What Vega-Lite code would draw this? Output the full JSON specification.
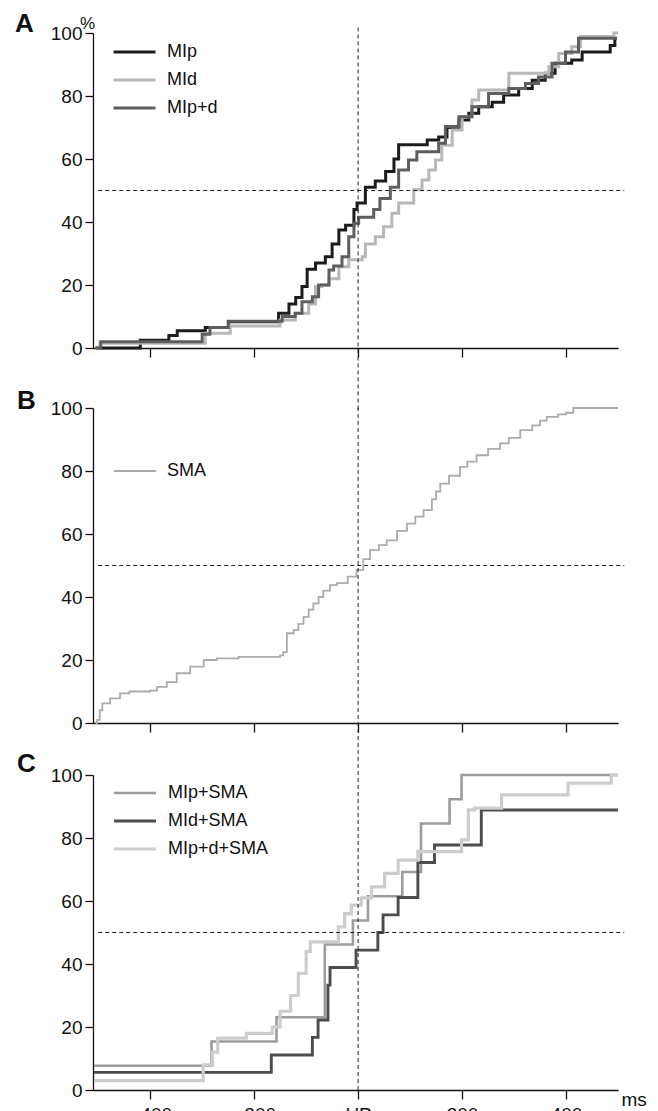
{
  "$schema": "https://vega.github.io/schema/vega-lite/v6.json",
  "background": "white",
  "padding": {"left": 15, "top": 11, "right": 5, "bottom": 5},
  "bounds": "flush",
  "spacing": 60,
  "resolve": {"scale": {"color": "independent", "strokeWidth": "independent"}, "legend": {"color": "independent", "strokeWidth": "independent"}},
  "config": {
    "font": "Liberation Sans",
    "view": {"stroke": null},
    "axis": {"grid": false, "domainColor": "#111", "tickColor": "#111", "labelColor": "#111", "labelFont": "Liberation Sans", "labelFontSize": 19, "domainWidth": 1.3, "tickWidth": 1.3, "titleFont": "Liberation Sans", "titleFontWeight": "normal", "titleColor": "#111"},
    "legend": {"orient": "none", "title": null, "symbolType": "stroke", "symbolSize": 1764, "symbolStrokeWidth": 3, "labelFont": "Liberation Sans", "labelFontSize": 18, "labelColor": "#111", "labelOffset": 10, "rowPadding": 8, "clipHeight": 20},
    "title": {"font": "Liberation Sans", "fontSize": 26, "fontWeight": "bold", "anchor": "start", "frame": "group", "color": "#111", "baseline": "alphabetic"}
  },
  "datasets": {
    "A": [
      {"series": "MIp", "ms": -505, "pct": 0}, {"series": "MIp", "ms": -419, "pct": 2.5}, {"series": "MIp", "ms": -364, "pct": 4}, {"series": "MIp", "ms": -348, "pct": 5.5}, {"series": "MIp", "ms": -294, "pct": 6.5}, {"series": "MIp", "ms": -249, "pct": 8.3}, {"series": "MIp", "ms": -153, "pct": 11}, {"series": "MIp", "ms": -133, "pct": 14}, {"series": "MIp", "ms": -120, "pct": 16}, {"series": "MIp", "ms": -108, "pct": 19.5}, {"series": "MIp", "ms": -98, "pct": 25}, {"series": "MIp", "ms": -82, "pct": 27}, {"series": "MIp", "ms": -63, "pct": 29}, {"series": "MIp", "ms": -50, "pct": 33}, {"series": "MIp", "ms": -37, "pct": 37.5}, {"series": "MIp", "ms": -24, "pct": 39}, {"series": "MIp", "ms": -8, "pct": 44}, {"series": "MIp", "ms": -2, "pct": 46}, {"series": "MIp", "ms": 14, "pct": 51}, {"series": "MIp", "ms": 33, "pct": 53}, {"series": "MIp", "ms": 53, "pct": 56}, {"series": "MIp", "ms": 69, "pct": 60}, {"series": "MIp", "ms": 78, "pct": 64.5}, {"series": "MIp", "ms": 133, "pct": 66}, {"series": "MIp", "ms": 155, "pct": 67}, {"series": "MIp", "ms": 171, "pct": 70}, {"series": "MIp", "ms": 194, "pct": 72.4}, {"series": "MIp", "ms": 213, "pct": 74.5}, {"series": "MIp", "ms": 232, "pct": 76.6}, {"series": "MIp", "ms": 258, "pct": 78}, {"series": "MIp", "ms": 280, "pct": 80.3}, {"series": "MIp", "ms": 309, "pct": 82.4}, {"series": "MIp", "ms": 335, "pct": 85}, {"series": "MIp", "ms": 360, "pct": 87.2}, {"series": "MIp", "ms": 379, "pct": 90.4}, {"series": "MIp", "ms": 411, "pct": 91.4}, {"series": "MIp", "ms": 431, "pct": 94}, {"series": "MIp", "ms": 485, "pct": 96}, {"series": "MIp", "ms": 494, "pct": 98.3}, {"series": "MIp", "ms": 498, "pct": 98.3},
      {"series": "MId", "ms": -505, "pct": 0}, {"series": "MId", "ms": -497, "pct": 1.5}, {"series": "MId", "ms": -294, "pct": 4.7}, {"series": "MId", "ms": -246, "pct": 7}, {"series": "MId", "ms": -150, "pct": 8.9}, {"series": "MId", "ms": -121, "pct": 11}, {"series": "MId", "ms": -95, "pct": 14}, {"series": "MId", "ms": -82, "pct": 19.5}, {"series": "MId", "ms": -70, "pct": 20}, {"series": "MId", "ms": -56, "pct": 22}, {"series": "MId", "ms": -37, "pct": 25.8}, {"series": "MId", "ms": -18, "pct": 28}, {"series": "MId", "ms": 8, "pct": 29}, {"series": "MId", "ms": 14, "pct": 33}, {"series": "MId", "ms": 33, "pct": 35.3}, {"series": "MId", "ms": 49, "pct": 38.5}, {"series": "MId", "ms": 65, "pct": 42.8}, {"series": "MId", "ms": 78, "pct": 46}, {"series": "MId", "ms": 107, "pct": 50.2}, {"series": "MId", "ms": 123, "pct": 53.3}, {"series": "MId", "ms": 136, "pct": 56.5}, {"series": "MId", "ms": 149, "pct": 59.7}, {"series": "MId", "ms": 161, "pct": 64.4}, {"series": "MId", "ms": 181, "pct": 69.2}, {"series": "MId", "ms": 200, "pct": 73.4}, {"series": "MId", "ms": 219, "pct": 78.7}, {"series": "MId", "ms": 232, "pct": 81.9}, {"series": "MId", "ms": 290, "pct": 87.2}, {"series": "MId", "ms": 367, "pct": 89.3}, {"series": "MId", "ms": 386, "pct": 93.5}, {"series": "MId", "ms": 411, "pct": 95.6}, {"series": "MId", "ms": 428, "pct": 98.9}, {"series": "MId", "ms": 492, "pct": 100}, {"series": "MId", "ms": 500, "pct": 100},
      {"series": "MIp+d", "ms": -505, "pct": 0}, {"series": "MIp+d", "ms": -495, "pct": 2}, {"series": "MIp+d", "ms": -300, "pct": 4.4}, {"series": "MIp+d", "ms": -285, "pct": 6.5}, {"series": "MIp+d", "ms": -250, "pct": 8.5}, {"series": "MIp+d", "ms": -146, "pct": 10}, {"series": "MIp+d", "ms": -121, "pct": 11}, {"series": "MIp+d", "ms": -108, "pct": 14.7}, {"series": "MIp+d", "ms": -88, "pct": 16.3}, {"series": "MIp+d", "ms": -76, "pct": 20}, {"series": "MIp+d", "ms": -56, "pct": 24.8}, {"series": "MIp+d", "ms": -47, "pct": 26}, {"series": "MIp+d", "ms": -31, "pct": 29}, {"series": "MIp+d", "ms": -18, "pct": 35.3}, {"series": "MIp+d", "ms": -8, "pct": 39.6}, {"series": "MIp+d", "ms": 1, "pct": 41.5}, {"series": "MIp+d", "ms": 30, "pct": 44}, {"series": "MIp+d", "ms": 42, "pct": 47.5}, {"series": "MIp+d", "ms": 62, "pct": 51}, {"series": "MIp+d", "ms": 78, "pct": 56.5}, {"series": "MIp+d", "ms": 97, "pct": 59.7}, {"series": "MIp+d", "ms": 113, "pct": 62.3}, {"series": "MIp+d", "ms": 155, "pct": 65}, {"series": "MIp+d", "ms": 168, "pct": 70.3}, {"series": "MIp+d", "ms": 194, "pct": 73.4}, {"series": "MIp+d", "ms": 219, "pct": 76.6}, {"series": "MIp+d", "ms": 251, "pct": 80.8}, {"series": "MIp+d", "ms": 290, "pct": 82.4}, {"series": "MIp+d", "ms": 322, "pct": 84}, {"series": "MIp+d", "ms": 347, "pct": 86}, {"series": "MIp+d", "ms": 373, "pct": 90.4}, {"series": "MIp+d", "ms": 399, "pct": 94}, {"series": "MIp+d", "ms": 424, "pct": 98.3}, {"series": "MIp+d", "ms": 498, "pct": 98.3}
    ],
    "B": [
      {"series": "SMA", "ms": -505, "pct": 0}, {"series": "SMA", "ms": -502, "pct": 1}, {"series": "SMA", "ms": -497, "pct": 4}, {"series": "SMA", "ms": -492, "pct": 6.2}, {"series": "SMA", "ms": -477, "pct": 7.8}, {"series": "SMA", "ms": -458, "pct": 9.4}, {"series": "SMA", "ms": -440, "pct": 10}, {"series": "SMA", "ms": -400, "pct": 10.3}, {"series": "SMA", "ms": -387, "pct": 11.5}, {"series": "SMA", "ms": -368, "pct": 13}, {"series": "SMA", "ms": -349, "pct": 15.8}, {"series": "SMA", "ms": -323, "pct": 17.9}, {"series": "SMA", "ms": -297, "pct": 20}, {"series": "SMA", "ms": -272, "pct": 20.5}, {"series": "SMA", "ms": -230, "pct": 21}, {"series": "SMA", "ms": -150, "pct": 21.5}, {"series": "SMA", "ms": -144, "pct": 22.5}, {"series": "SMA", "ms": -137, "pct": 28.5}, {"series": "SMA", "ms": -124, "pct": 29.5}, {"series": "SMA", "ms": -115, "pct": 31.5}, {"series": "SMA", "ms": -105, "pct": 33.7}, {"series": "SMA", "ms": -95, "pct": 36}, {"series": "SMA", "ms": -86, "pct": 38}, {"series": "SMA", "ms": -76, "pct": 40}, {"series": "SMA", "ms": -67, "pct": 42}, {"series": "SMA", "ms": -54, "pct": 43.8}, {"series": "SMA", "ms": -41, "pct": 44.4}, {"series": "SMA", "ms": -20, "pct": 46.5}, {"series": "SMA", "ms": -3, "pct": 48.6}, {"series": "SMA", "ms": 10, "pct": 52}, {"series": "SMA", "ms": 23, "pct": 54.9}, {"series": "SMA", "ms": 40, "pct": 56.5}, {"series": "SMA", "ms": 55, "pct": 58}, {"series": "SMA", "ms": 75, "pct": 61}, {"series": "SMA", "ms": 94, "pct": 63.3}, {"series": "SMA", "ms": 110, "pct": 65.5}, {"series": "SMA", "ms": 126, "pct": 67.6}, {"series": "SMA", "ms": 142, "pct": 71}, {"series": "SMA", "ms": 150, "pct": 73.5}, {"series": "SMA", "ms": 158, "pct": 76}, {"series": "SMA", "ms": 175, "pct": 78.5}, {"series": "SMA", "ms": 196, "pct": 81.3}, {"series": "SMA", "ms": 210, "pct": 83}, {"series": "SMA", "ms": 228, "pct": 85}, {"series": "SMA", "ms": 250, "pct": 87}, {"series": "SMA", "ms": 273, "pct": 88.8}, {"series": "SMA", "ms": 290, "pct": 90.5}, {"series": "SMA", "ms": 312, "pct": 93}, {"series": "SMA", "ms": 335, "pct": 94.5}, {"series": "SMA", "ms": 350, "pct": 96}, {"series": "SMA", "ms": 363, "pct": 97.2}, {"series": "SMA", "ms": 385, "pct": 98}, {"series": "SMA", "ms": 400, "pct": 98.5}, {"series": "SMA", "ms": 414, "pct": 100}, {"series": "SMA", "ms": 500, "pct": 100}
    ],
    "C": [
      {"series": "MIp+SMA", "ms": -508, "pct": 7.7}, {"series": "MIp+SMA", "ms": -282, "pct": 15.4}, {"series": "MIp+SMA", "ms": -157, "pct": 23.1}, {"series": "MIp+SMA", "ms": -64, "pct": 46.2}, {"series": "MIp+SMA", "ms": -10, "pct": 53.8}, {"series": "MIp+SMA", "ms": 19, "pct": 61.5}, {"series": "MIp+SMA", "ms": 85, "pct": 69.2}, {"series": "MIp+SMA", "ms": 121, "pct": 84.6}, {"series": "MIp+SMA", "ms": 176, "pct": 92.3}, {"series": "MIp+SMA", "ms": 199, "pct": 100}, {"series": "MIp+SMA", "ms": 500, "pct": 100},
      {"series": "MId+SMA", "ms": -508, "pct": 5.6}, {"series": "MId+SMA", "ms": -167, "pct": 11.1}, {"series": "MId+SMA", "ms": -88, "pct": 16.7}, {"series": "MId+SMA", "ms": -77, "pct": 22.2}, {"series": "MId+SMA", "ms": -58, "pct": 33.3}, {"series": "MId+SMA", "ms": -54, "pct": 38.9}, {"series": "MId+SMA", "ms": -4, "pct": 44.4}, {"series": "MId+SMA", "ms": 38, "pct": 50}, {"series": "MId+SMA", "ms": 48, "pct": 55.6}, {"series": "MId+SMA", "ms": 77, "pct": 61.1}, {"series": "MId+SMA", "ms": 115, "pct": 72.2}, {"series": "MId+SMA", "ms": 147, "pct": 77.8}, {"series": "MId+SMA", "ms": 237, "pct": 88.9}, {"series": "MId+SMA", "ms": 500, "pct": 88.9},
      {"series": "MIp+d+SMA", "ms": -508, "pct": 3}, {"series": "MIp+d+SMA", "ms": -298, "pct": 8}, {"series": "MIp+d+SMA", "ms": -280, "pct": 12}, {"series": "MIp+d+SMA", "ms": -270, "pct": 16.5}, {"series": "MIp+d+SMA", "ms": -215, "pct": 18}, {"series": "MIp+d+SMA", "ms": -165, "pct": 20}, {"series": "MIp+d+SMA", "ms": -150, "pct": 25}, {"series": "MIp+d+SMA", "ms": -130, "pct": 30}, {"series": "MIp+d+SMA", "ms": -115, "pct": 37}, {"series": "MIp+d+SMA", "ms": -100, "pct": 44}, {"series": "MIp+d+SMA", "ms": -92, "pct": 47}, {"series": "MIp+d+SMA", "ms": -38, "pct": 51.8}, {"series": "MIp+d+SMA", "ms": -26, "pct": 56}, {"series": "MIp+d+SMA", "ms": -13, "pct": 58.7}, {"series": "MIp+d+SMA", "ms": 6, "pct": 61}, {"series": "MIp+d+SMA", "ms": 26, "pct": 64.5}, {"series": "MIp+d+SMA", "ms": 51, "pct": 68.8}, {"series": "MIp+d+SMA", "ms": 77, "pct": 73}, {"series": "MIp+d+SMA", "ms": 115, "pct": 75.7}, {"series": "MIp+d+SMA", "ms": 199, "pct": 79.4}, {"series": "MIp+d+SMA", "ms": 212, "pct": 88.9}, {"series": "MIp+d+SMA", "ms": 224, "pct": 89.5}, {"series": "MIp+d+SMA", "ms": 276, "pct": 93.7}, {"series": "MIp+d+SMA", "ms": 404, "pct": 97.4}, {"series": "MIp+d+SMA", "ms": 487, "pct": 100}, {"series": "MIp+d+SMA", "ms": 500, "pct": 100}
    ]
  },
  "vconcat": [
    {
      "width": 525, "height": 315,
      "title": {"text": "A", "dx": -78, "dy": 23, "offset": 0},
      "layer": [
        {
          "data": {"name": "A"},
          "mark": {"type": "line", "interpolate": "step-after", "strokeCap": "butt"},
          "encoding": {
            "x": {"field": "ms", "type": "quantitative", "scale": {"domain": [-510, 500], "nice": false, "zero": false}, "axis": {"values": [-400, -200, 0, 200, 400], "labels": false, "tickSize": 9, "title": null}},
            "y": {"field": "pct", "type": "quantitative", "scale": {"domain": [0, 100], "nice": false}, "axis": {"values": [0, 20, 40, 60, 80, 100], "tickSize": 8, "labelPadding": 3, "title": "%", "titleAngle": 0, "titleX": -6, "titleY": -5, "titleAlign": "center", "titleBaseline": "alphabetic", "titleFontSize": 17}},
            "color": {"field": "series", "type": "nominal", "scale": {"domain": ["MIp", "MId", "MIp+d"], "range": ["#1c1c1c", "#b8b8b8", "#5e5e5e"]}, "legend": {"legendX": 19, "legendY": 9}},
            "strokeWidth": {"value": 3}
          }
        },
        {
          "data": {"values": [{}]},
          "mark": {"type": "rule", "strokeDash": [4, 3], "strokeWidth": 1, "color": "#222", "clip": false},
          "encoding": {"x": {"datum": -500}, "x2": {"datum": 512}, "y": {"datum": 50}}
        },
        {
          "data": {"values": [{}]},
          "mark": {"type": "rule", "strokeDash": [4, 3], "strokeWidth": 1, "color": "#222", "clip": false},
          "encoding": {"x": {"datum": 0}, "y": {"datum": -19.5}, "y2": {"datum": 102}}
        }
      ]
    },
    {
      "bounds": "flush",
      "spacing": 52,
      "resolve": {"scale": {"color": "independent", "strokeWidth": "independent"}, "legend": {"color": "independent", "strokeWidth": "independent"}},
      "vconcat": [
        {
          "width": 525, "height": 315,
          "title": {"text": "B", "dx": -76, "dy": 15, "offset": 0},
          "layer": [
            {
              "data": {"name": "B"},
              "mark": {"type": "line", "interpolate": "step-after", "strokeCap": "butt"},
              "encoding": {
                "x": {"field": "ms", "type": "quantitative", "scale": {"domain": [-510, 500], "nice": false, "zero": false}, "axis": {"values": [-400, -200, 0, 200, 400], "labels": false, "tickSize": 9, "title": null}},
                "y": {"field": "pct", "type": "quantitative", "scale": {"domain": [0, 100], "nice": false}, "axis": {"values": [0, 20, 40, 60, 80, 100], "tickSize": 8, "labelPadding": 3, "title": null}},
                "color": {"field": "series", "type": "nominal", "scale": {"domain": ["SMA"], "range": ["#ababab"]}, "legend": {"legendX": 20, "legendY": 53, "symbolStrokeWidth": 2}},
                "strokeWidth": {"value": 1.8}
              }
            },
            {
              "data": {"values": [{}]},
              "mark": {"type": "rule", "strokeDash": [4, 3], "strokeWidth": 1, "color": "#222", "clip": false},
              "encoding": {"x": {"datum": -500}, "x2": {"datum": 512}, "y": {"datum": 50}}
            },
            {
              "data": {"values": [{}]},
              "mark": {"type": "rule", "strokeDash": [4, 3], "strokeWidth": 1, "color": "#222", "clip": false},
              "encoding": {"x": {"datum": 0}, "y": {"datum": -16.5}, "y2": {"datum": 100}}
            }
          ]
        },
        {
          "width": 525, "height": 315,
          "title": {"text": "C", "dx": -76, "dy": 11, "offset": 0},
          "layer": [
            {
              "data": {"name": "C"},
              "mark": {"type": "line", "interpolate": "step-after", "strokeCap": "butt"},
              "encoding": {
                "x": {"field": "ms", "type": "quantitative", "scale": {"domain": [-510, 500], "nice": false, "zero": false}, "axis": {"values": [-400, -200, 0, 200, 400], "tickSize": 9, "labelPadding": 6, "labelExpr": "datum.value == 0 ? 'HP' : datum.label", "title": "ms", "titleAngle": 0, "titleX": 528, "titleY": 15, "titleAlign": "left", "titleBaseline": "alphabetic", "titleFontSize": 19}},
                "y": {"field": "pct", "type": "quantitative", "scale": {"domain": [0, 100], "nice": false}, "axis": {"values": [0, 20, 40, 60, 80, 100], "tickSize": 8, "labelPadding": 3, "title": null}},
                "color": {"field": "series", "type": "nominal", "scale": {"domain": ["MIp+SMA", "MId+SMA", "MIp+d+SMA"], "range": ["#9c9c9c", "#4c4c4c", "#cdcdcd"]}, "legend": {"legendX": 19, "legendY": 8}},
                "strokeWidth": {"field": "series", "type": "nominal", "scale": {"domain": ["MIp+SMA", "MId+SMA", "MIp+d+SMA"], "range": [2.6, 3.2, 1.5]}, "legend": {"legendX": 19, "legendY": 8}}
              }
            },
            {
              "data": {"values": [{}]},
              "mark": {"type": "rule", "strokeDash": [4, 3], "strokeWidth": 1, "color": "#222", "clip": false},
              "encoding": {"x": {"datum": -500}, "x2": {"datum": 512}, "y": {"datum": 50}}
            },
            {
              "data": {"values": [{}]},
              "mark": {"type": "rule", "strokeDash": [4, 3], "strokeWidth": 1, "color": "#222", "clip": false},
              "encoding": {"x": {"datum": 0}, "y": {"datum": 0}, "y2": {"datum": 100}}
            }
          ]
        }
      ]
    }
  ]
}
